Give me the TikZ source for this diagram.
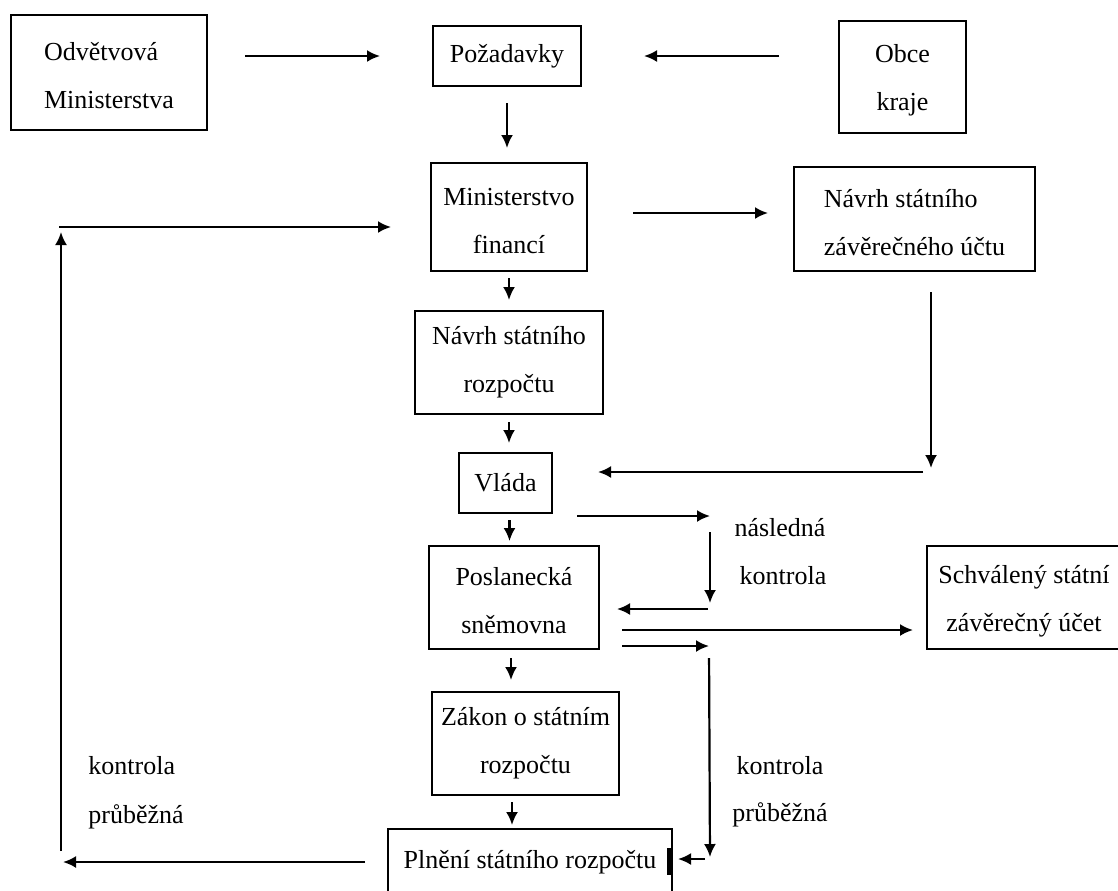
\documentclass[tikz,border=0pt]{standalone}
\usepackage{fontspec}
\setmainfont{Liberation Serif}
\usetikzlibrary{arrows.meta,calc}
\newcommand\tallrow{\rule{0pt}{12.5pt}}
\begin{document}
\begin{tikzpicture}[x=0.5pt,y=-0.5pt,
  every node/.style={font=\fontsize{13}{24}\selectfont, text=black},
  box/.style={draw, line width=1pt, inner sep=0pt, outer sep=0pt, align=center},
  arr/.style={line width=1.1pt, -{Latex[length=6.5pt,width=6pt]}},
  lab/.style={inner sep=0pt, anchor=base}
]
\fill[white] (0,0) rectangle (1118,890);
\useasboundingbox (0,0) rectangle (1118,890);

% boxes
\node[box, align=left, minimum width=98pt, minimum height=57.5pt] (odv) at (109,72.5) {\tallrow Odvětvová\\Ministerstva};
\node[box, minimum width=74pt, minimum height=30pt] (poz) at (507,56) {Požadavky};
\node[box, minimum width=63.5pt, minimum height=56pt] (obce) at (902.5,77) {\tallrow Obce\\kraje};
\node[box, minimum width=78pt, minimum height=54pt] (mf) at (509,217) {\tallrow Ministerstvo\\financí};
\node[box, align=left, minimum width=120.5pt, minimum height=52pt] (nz) at (914.5,219) {\tallrow Návrh státního\\závěrečného účtu};
\node[box, minimum width=94pt, minimum height=51.5pt] (nr) at (509,362.5) {Návrh státního\\rozpočtu};
\node[box, minimum width=46.5pt, minimum height=30pt] (vlada) at (505.5,483) {Vláda};
\node[box, minimum width=85pt, minimum height=51.5pt] (posl) at (514,597.5) {\tallrow Poslanecká\\sněmovna};
\node[box, minimum width=97pt, minimum height=51.5pt] (schv) at (1024,597.5) {\tallrow Schválený státní\\závěrečný účet};
\node[box, minimum width=93.5pt, minimum height=51.5pt] (zakon) at (525.5,743.5) {Zákon o státním\\rozpočtu};
\node[box, minimum width=142pt, minimum height=33pt] (plneni) at (530,862) {Plnění státního rozpočtu};
\draw[line width=1.6pt] (669,848) -- (669,875);

% labels
\node[lab] (nasl) at (780,536) {následná};
\node[lab] (nkon) at (783,584) {kontrola};
\node[lab, anchor=base west] (lkon) at (88,774) {kontrola};
\node[lab, anchor=base west] (lpru) at (88,823) {průběžná};
\node[lab] (rkon) at (780,774) {kontrola};
\node[lab] (rpru) at (780,821) {průběžná};

% top row
\draw[arr, shorten <=19pt, shorten >=26.5pt] (odv.east |- poz.west) -- (poz.west);
\draw[arr, shorten <=30pt, shorten >=31.5pt] (obce.west |- poz.east) -- (poz.east);
\draw[arr, shorten <=8.5pt, shorten >=7.5pt] (poz.south) -- (poz.south |- mf.north);
\draw[arr, shorten <=23pt, shorten >=13pt] ([yshift=2pt]mf.east) -- ([yshift=2pt]mf.east -| nz.west);

% central column
\draw[arr, shorten <=3.5pt, shorten >=5.5pt] (mf.south) -- (mf.south |- nr.north);
\draw[arr, shorten <=4pt, shorten >=5pt] (nr.south) -- (nr.south |- vlada.north);
\draw[arr, shorten <=3.5pt, shorten >=2.5pt] ([xshift=2pt]vlada.south) -- ([xshift=2pt]vlada.south |- posl.north);
\draw[arr, shorten <=4.5pt, shorten >=6pt] ([xshift=-1.5pt]posl.south) -- ([xshift=-1.5pt]posl.south |- zakon.north);
\draw[arr, shorten <=3.5pt, shorten >=2pt] ([xshift=-1pt]posl.south |- zakon.south) -- ([xshift=-1pt]posl.south |- plneni.north);

% closing account path
\coordinate (nzc) at (931,472);
\draw[arr, shorten <=10.5pt, shorten >=2pt] (nzc |- nz.south) -- (nzc);
\draw[arr, shorten <=4pt, shorten >=23pt] (nzc) -- (nzc -| vlada.east);

% subsequent control
\coordinate (nk1) at (710,516);
\coordinate (nk2) at (710,609);
\draw[arr, shorten <=12.5pt] (vlada.east |- nk1) -- (nk1);
\draw[arr, shorten <=8pt, shorten >=3pt] (nk1) -- (nk2);
\draw[arr, shorten <=1pt, shorten >=9pt] (nk2) -- (nk2 -| posl.east);

% approved account
\coordinate (p1) at (599,630);
\draw[arr, shorten <=11.5pt, shorten >=7pt] (posl.east |- p1) -- (p1 -| schv.west);

% ongoing control (right)
\coordinate (pk1) at (709,646);
\coordinate (pk2) at (710,859);
\draw[arr, shorten <=11.5pt] (posl.east |- pk1) -- (pk1);
\draw[arr, shorten <=6pt, shorten >=1pt] (pk1) -- (pk2);
\draw[arr, shorten <=2.5pt, shorten >=3pt] (pk2) -- (pk2 -| plneni.east);

% ongoing control (left loop)
\coordinate (lt) at (61,227);
\coordinate (lb) at (61,851);
\draw[arr, shorten <=11.5pt] (plneni.west) -- (plneni.west -| 63,0);
\draw[arr, shorten >=2.5pt] (lb) -- (lt);
\draw[arr, shorten <=-1pt, shorten >=20pt] (lt) -- (lt -| mf.west);
\end{tikzpicture}
\end{document}
